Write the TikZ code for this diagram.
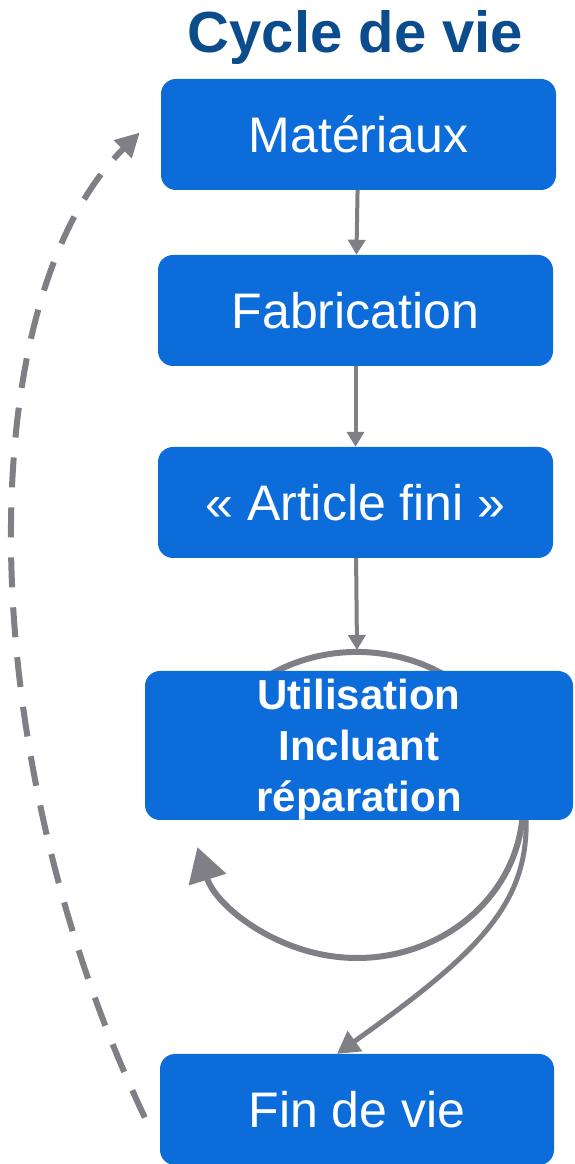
\documentclass[tikz,border=0pt]{standalone}
\usepackage{fontspec}
\setmainfont{Liberation Sans}
\usetikzlibrary{positioning,calc,arrows.meta}
\definecolor{LCblue}{RGB}{11,108,218}
\definecolor{LCtitle}{RGB}{11,76,140}
\definecolor{LCgray}{RGB}{128,127,134}

\tikzset{
  stage/.style={fill=LCblue,rounded corners=15pt,text=white,
                minimum width=395pt,minimum height=111pt,
                font=\fontsize{50}{60}\selectfont},
  flow/.style={draw=LCgray,line width=4pt,-{Triangle[length=15pt,width=17pt]}}
}

\begin{document}
\begin{tikzpicture}[x=1pt,y=1pt]
        \useasboundingbox (0,0) rectangle (574,1164);
        \node[anchor=base,text=LCtitle,font=\bfseries\fontsize{58}{60}\selectfont]
              (title) at (355.5,1111) {Cycle de vie};
        \coordinate (loop) at (357,359);
        \coordinate (looptop) at (357,514);
        \coordinate (loopstart) at (193.5,385.6);
        \draw[LCgray,line width=6pt,-{Triangle[length=34pt,width=38pt]}]
              (loopstart) arc[start angle=170,end angle=-164,x radius=166,y radius=153];
        \node[stage] (mat) at (358.5,1029.5) {Matériaux};
        \node[stage] (fab) at (355.5,853.5) {Fabrication};
        \node[stage] (art) at (355.5,661.5) {« Article fini »};
        \node[stage,minimum width=428pt,minimum height=149pt,inner ysep=0pt,align=center,
              font=\bfseries\fontsize{42}{51}\selectfont] (use) at (359,418.5)
              {\rule{0pt}{38pt}Utilisation\\Incluant\\réparation};
        \node[stage,minimum width=394pt] (end) at (357,54.5) {Fin de vie};
        \draw[flow] (mat) -- (fab);
        \draw[flow] (fab) -- (art);
        \draw[flow] (art) -- (looptop);
        \draw[LCgray,line width=5pt,-{Triangle[length=22pt,width=24pt]}]
              ([xshift=-47pt]use.south east) .. controls +(1,-84) and (480,212) .. ([xshift=-20pt]end.north);
        \draw[LCgray,line width=6pt,dash pattern=on 30pt off 20pt,
              -{Triangle[length=24pt,width=24pt]}]
              ([xshift=-15pt,yshift=-8pt]end.west) .. controls (-30,414) and (-30,864) .. ([xshift=-21pt,yshift=2pt]mat.west);
      \end{tikzpicture}
\end{document}
